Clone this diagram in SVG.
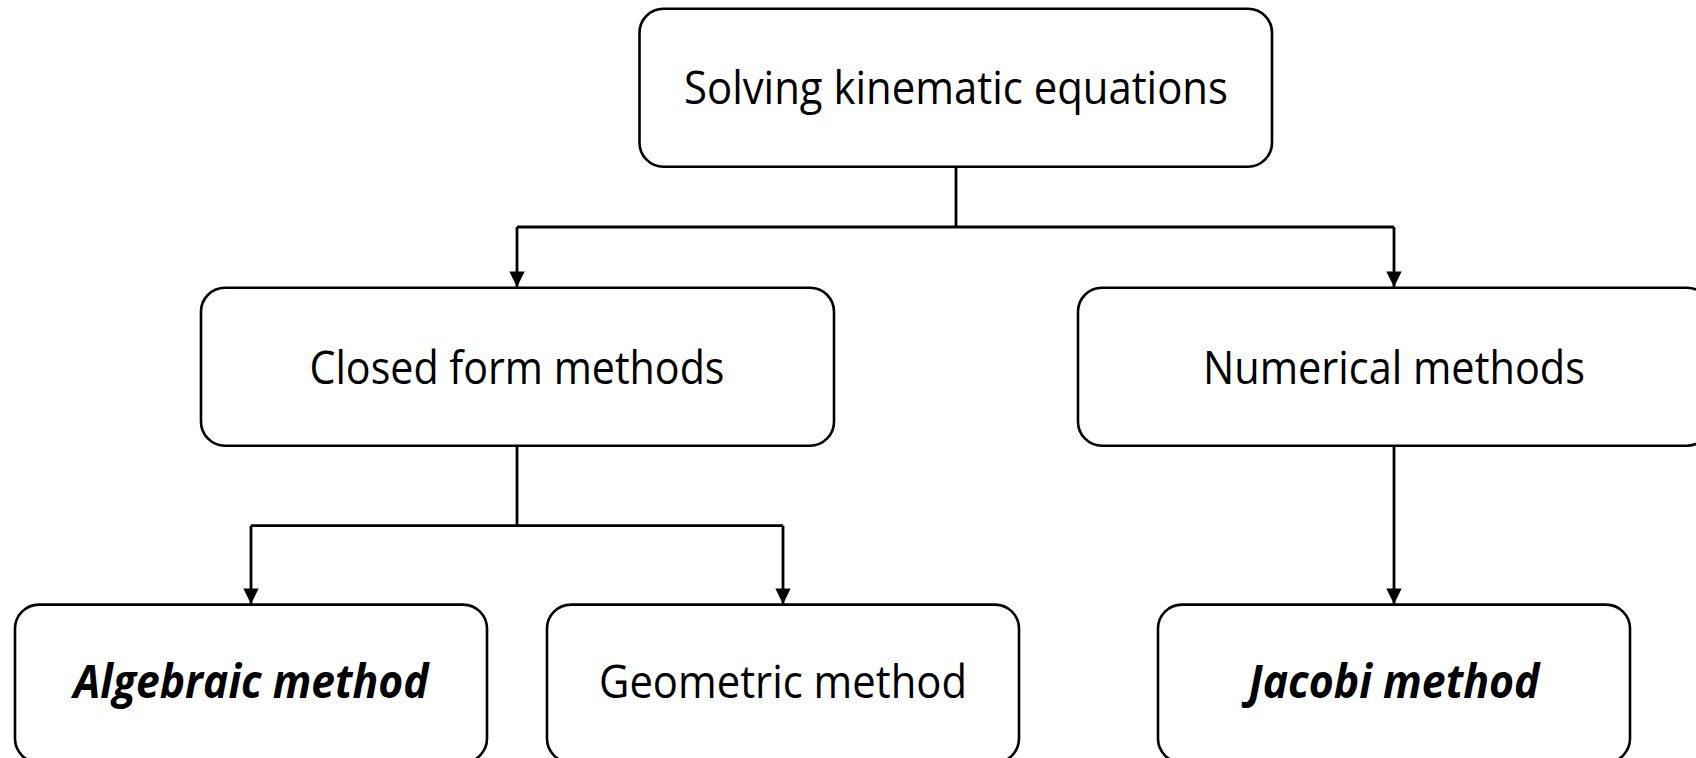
<svg xmlns="http://www.w3.org/2000/svg" width="1696" height="758" viewBox="0 0 1696 758">
<style>
.box{fill:#fff;stroke:#000;stroke-width:2.6}
.lbl{font-family:"Open Sans","Noto Sans",sans-serif;font-size:46px;fill:#000;text-anchor:middle}
.em{font-weight:bold;font-style:italic}
.con{fill:none;stroke:#000;stroke-width:2.8}
</style>
<defs>
<marker id="arr" viewBox="0 0 10 10" refX="10" refY="5" markerWidth="6.5" markerHeight="5.5" markerUnits="strokeWidth" orient="auto">
<path d="M0,0 L10,5 L0,10 z" fill="#000"/>
</marker>
</defs>
<rect width="1696" height="758" fill="#fff"/>
<g id="connectors">
<path class="con" d="M956,166.6 V227"/>
<path class="con" d="M517,227 H1394"/>
<path class="con" d="M517,227 V287" marker-end="url(#arr)"/>
<path class="con" d="M1394,227 V287" marker-end="url(#arr)"/>
<path class="con" d="M517,445.6 V525.7 M251,525.7 H783"/>
<path class="con" d="M251,525.7 V604" marker-end="url(#arr)"/>
<path class="con" d="M783,525.7 V604" marker-end="url(#arr)"/>
<path class="con" d="M1394,445.6 V604" marker-end="url(#arr)"/>
</g>
<g id="n-root">
<rect class="box" x="639.5" y="8.7" width="632.5" height="158" rx="24"/>
<text class="lbl" x="956" y="104" textLength="544" lengthAdjust="spacingAndGlyphs">Solving kinematic equations</text>
</g>
<g id="n-closed">
<rect class="box" x="201" y="287.7" width="633" height="158" rx="24"/>
<text class="lbl" x="517" y="384" textLength="415" lengthAdjust="spacingAndGlyphs">Closed form methods</text>
</g>
<g id="n-numerical">
<rect class="box" x="1078" y="287.7" width="633" height="158" rx="24"/>
<text class="lbl" x="1394" y="384" textLength="382" lengthAdjust="spacingAndGlyphs">Numerical methods</text>
</g>
<g id="n-algebraic">
<rect class="box" x="15" y="604.6" width="472" height="158" rx="24"/>
<text class="lbl em" x="251" y="698" textLength="355" lengthAdjust="spacingAndGlyphs">Algebraic method</text>
</g>
<g id="n-geometric">
<rect class="box" x="547" y="604.6" width="472" height="158" rx="24"/>
<text class="lbl" x="783" y="698" textLength="368" lengthAdjust="spacingAndGlyphs">Geometric method</text>
</g>
<g id="n-jacobi">
<rect class="box" x="1158" y="604.6" width="472" height="158" rx="24"/>
<text class="lbl em" x="1394" y="698" textLength="291" lengthAdjust="spacingAndGlyphs">Jacobi method</text>
</g>
</svg>
